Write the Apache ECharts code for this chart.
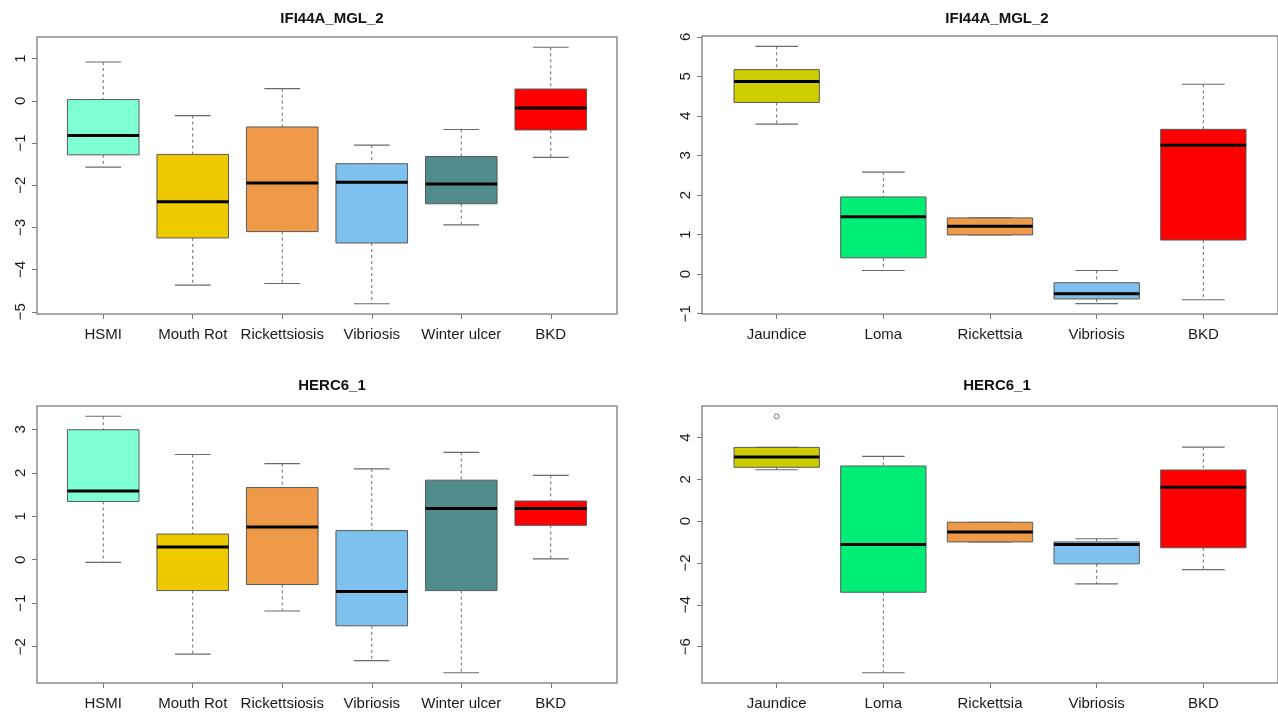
<!DOCTYPE html>
<html>
<head>
<meta charset="utf-8">
<title>IFI44A_MGL_2 / HERC6_1</title>
<script src="https://cdn.jsdelivr.net/npm/echarts@6/dist/echarts.min.js"></script>
<style>
  html, body { margin: 0; padding: 0; background: #ffffff; }
  #chart { width: 1278px; height: 713px; }
</style>
</head>
<body>
<div id="chart"></div>
<script>
// Disease groups
const groupsA = ['HSMI', 'Mouth Rot', 'Rickettsiosis', 'Vibriosis', 'Winter ulcer', 'BKD'];
const groupsB = ['Jaundice', 'Loma', 'Rickettsia', 'Vibriosis', 'BKD'];

// Box statistics per group: [lower whisker, Q1, median, Q3, upper whisker]
const ifiGroupsA = [
  [-1.57, -1.28, -0.82, 0.03, 0.92],
  [-4.37, -3.25, -2.39, -1.27, -0.35],
  [-4.33, -3.10, -1.95, -0.62, 0.29],
  [-4.81, -3.37, -1.93, -1.49, -1.05],
  [-2.94, -2.44, -1.97, -1.32, -0.68],
  [-1.34, -0.69, -0.17, 0.28, 1.27]
];
const ifiGroupsB = [
  [3.79, 4.34, 4.87, 5.17, 5.76],
  [0.09, 0.41, 1.45, 1.95, 2.58],
  [0.99, 0.99, 1.21, 1.42, 1.42],
  [-0.75, -0.63, -0.50, -0.22, 0.09],
  [-0.65, 0.86, 3.26, 3.66, 4.80]
];
const hercGroupsA = [
  [-0.06, 1.34, 1.58, 2.99, 3.30],
  [-2.17, -0.71, 0.29, 0.59, 2.42],
  [-1.18, -0.57, 0.75, 1.66, 2.21],
  [-2.32, -1.52, -0.73, 0.67, 2.09],
  [-2.60, -0.71, 1.18, 1.83, 2.47],
  [0.02, 0.79, 1.18, 1.35, 1.94]
];
const hercGroupsB = [
  [2.46, 2.58, 3.07, 3.53, 3.53],
  [-7.25, -3.40, -1.11, 2.64, 3.10],
  [-0.99, -0.99, -0.52, -0.05, -0.05],
  [-3.00, -2.04, -1.11, -0.99, -0.84],
  [-2.32, -1.27, 1.62, 2.45, 3.54]
];

// Outlying points: [group position, value]
const ifiOutliersA = [];
const ifiOutliersB = [];
const hercOutliersA = [];
const hercOutliersB = [[1, 5.02]];

// Y tick labels
const ifiTicksA = [-5, -4, -3, -2, -1, 0, 1];
const ifiTicksB = [-1, 0, 1, 2, 3, 4, 5, 6];
const hercTicksA = [-2, -1, 0, 1, 2, 3];
const hercTicksB = [-6, -4, -2, 0, 2, 4];

// Fill colours
const fillsA = ['#7FFFD4', '#EEC900', '#EE9A49', '#7EC0EE', '#528B8B', '#FF0000'];
const fillsB = ['#CDCD00', '#00EE76', '#EE9A49', '#7EC0EE', '#FF0000'];

const FONT = '"Liberation Sans", Arial, Helvetica, sans-serif';

const panels = [
  { title: 'IFI44A_MGL_2', names: groupsA, stats: ifiGroupsA, outliers: ifiOutliersA, ticks: ifiTicksA, fills: fillsA,
    grid: { left: 37, top: 37, width: 580, height: 277 }, titleX: 327, titleY: 6 },
  { title: 'IFI44A_MGL_2', names: groupsB, stats: ifiGroupsB, outliers: ifiOutliersB, ticks: ifiTicksB, fills: fillsB,
    grid: { left: 702, top: 36, width: 581, height: 278 }, titleX: 992, titleY: 6 },
  { title: 'HERC6_1', names: groupsA, stats: hercGroupsA, outliers: hercOutliersA, ticks: hercTicksA, fills: fillsA,
    grid: { left: 37, top: 406, width: 580, height: 277 }, titleX: 327, titleY: 373 },
  { title: 'HERC6_1', names: groupsB, stats: hercGroupsB, outliers: hercOutliersB, ticks: hercTicksB, fills: fillsB,
    grid: { left: 702, top: 406, width: 581, height: 277 }, titleX: 992, titleY: 373 }
];

const fmtNum = v => (v < 0 ? '\u2212' + Math.abs(v) : String(v));

// Box, dashed whiskers with half-width staples, heavy median
function boxRenderer(fills) {
  return function (params, api) {
    const x = api.value(0);
    const lo = api.value(1), q1 = api.value(2), med = api.value(3), q3 = api.value(4), hi = api.value(5);
    const half = 0.4, staple = 0.2;
    const pLoL = api.coord([x - half, q1]);
    const pHiR = api.coord([x + half, q3]);
    const cx = api.coord([x, med])[0];
    const yLo = api.coord([x, lo])[1];
    const yHi = api.coord([x, hi])[1];
    const yMed = api.coord([x, med])[1];
    const sL = api.coord([x - staple, lo])[0];
    const sR = api.coord([x + staple, lo])[0];
    const whisk = { stroke: '#6a6a6a', lineWidth: 1, lineDash: [3, 3] };
    const cap = { stroke: '#6a6a6a', lineWidth: 1.2 };
    return {
      type: 'group',
      children: [
        { type: 'line', shape: { x1: cx, y1: yHi, x2: cx, y2: pHiR[1] }, style: whisk },
        { type: 'line', shape: { x1: cx, y1: pLoL[1], x2: cx, y2: yLo }, style: whisk },
        { type: 'line', shape: { x1: sL, y1: yHi, x2: sR, y2: yHi }, style: cap },
        { type: 'line', shape: { x1: sL, y1: yLo, x2: sR, y2: yLo }, style: cap },
        { type: 'rect', shape: { x: pLoL[0], y: pHiR[1], width: pHiR[0] - pLoL[0], height: pLoL[1] - pHiR[1] },
          style: { fill: fills[params.dataIndex], stroke: '#5a5a5a', lineWidth: 1 } },
        { type: 'line', shape: { x1: pLoL[0], y1: yMed, x2: pHiR[0], y2: yMed }, style: { stroke: '#000', lineWidth: 3 } }
      ]
    };
  };
}

const option = {
  backgroundColor: '#ffffff',
  animation: false,
  title: [], grid: [], xAxis: [], yAxis: [], series: []
};

panels.forEach((p, i) => {
  const n = p.names.length;
  const positions = p.names.map((_, k) => k + 1);
  let lo = Infinity, hi = -Infinity;
  p.stats.forEach(s => { lo = Math.min(lo, s[0]); hi = Math.max(hi, s[4]); });
  p.outliers.forEach(o => { lo = Math.min(lo, o[1]); hi = Math.max(hi, o[1]); });
  const yPad = 0.04 * (hi - lo);
  const xPad = 0.04 * n;

  option.title.push({
    text: p.title, left: p.titleX, top: p.titleY, textAlign: 'center',
    textStyle: { fontFamily: FONT, fontSize: 15, fontWeight: 'bold', color: '#111' }
  });
  option.grid.push(Object.assign({ show: true, borderColor: '#8c8c8c', borderWidth: 1.5, backgroundColor: 'transparent' }, p.grid));
  option.xAxis.push({
    type: 'value', gridIndex: i, min: 0.5 - xPad, max: n + 0.5 + xPad, position: 'bottom',
    axisLine: { show: false, onZero: false }, splitLine: { show: false },
    axisTick: { show: true, length: 5, customValues: positions, lineStyle: { color: '#777' } },
    axisLabel: { customValues: positions, margin: 13, fontFamily: FONT, fontSize: 15, color: '#1a1a1a',
      formatter: v => p.names[Math.round(v) - 1] }
  });
  option.yAxis.push({
    type: 'value', gridIndex: i, min: lo - yPad, max: hi + yPad, position: 'left',
    axisLine: { show: false, onZero: false }, splitLine: { show: false },
    axisTick: { show: true, length: 5, customValues: p.ticks, lineStyle: { color: '#777' } },
    axisLabel: { customValues: p.ticks, rotate: 90, margin: 9, fontFamily: FONT, fontSize: 15, color: '#1a1a1a',
      formatter: fmtNum }
  });
  option.series.push({
    type: 'custom', xAxisIndex: i, yAxisIndex: i,
    renderItem: boxRenderer(p.fills),
    encode: { x: 0, y: [1, 2, 3, 4, 5] },
    data: p.stats.map((s, k) => [k + 1].concat(s)),
    silent: true
  });
  if (p.outliers.length) {
    option.series.push({
      type: 'scatter', xAxisIndex: i, yAxisIndex: i,
      symbol: 'circle', symbolSize: 5,
      itemStyle: { color: 'transparent', borderColor: '#555', borderWidth: 1 },
      data: p.outliers, silent: true
    });
  }
});

const chart = echarts.init(document.getElementById('chart'), null, { renderer: 'canvas' });
chart.setOption(option);
</script>
</body>
</html>
